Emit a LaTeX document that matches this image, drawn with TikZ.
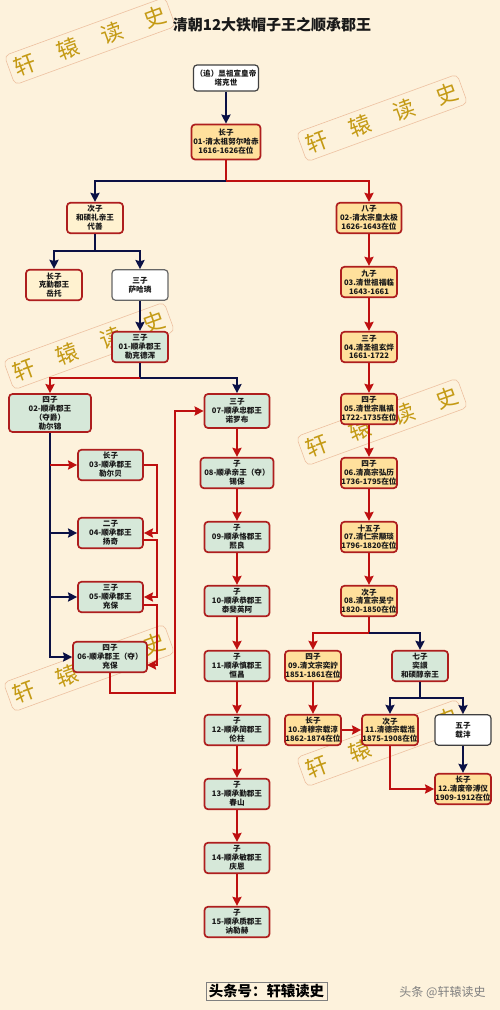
\documentclass[tikz,border=0pt]{standalone}
\usepackage{fontspec}
\setmainfont{Noto Sans CJK SC}
\usetikzlibrary{arrows.meta}
\lineskiplimit=-10pt
\normallineskiplimit=-10pt
\definecolor{PaperBg}{HTML}{FDF2DC}
\definecolor{LinkRed}{HTML}{BE1010}
\definecolor{LinkNavy}{HTML}{0B1145}
\definecolor{EdgeRed}{HTML}{AE1E1E}
\definecolor{EmperorFill}{HTML}{FFE09C}
\definecolor{PrinceFill}{HTML}{D6E8D9}
\definecolor{CreamFill}{HTML}{FFF2D0}
\definecolor{StampText}{HTML}{C49A14}
\definecolor{StampEdge}{HTML}{EDC0A0}
\tikzset{
  box/.style={draw=EdgeRed, line width=1.7pt, rounded corners=3.5pt, inner sep=0pt, align=center,
    text=black!90, font=\fontsize{7.6}{8.9}\selectfont\bfseries,
    minimum width=56pt, minimum height=30.5pt},
  emperor/.style={box, fill=EmperorFill},
  prince/.style={box, fill=PrinceFill},
  cream/.style={box, fill=CreamFill},
  plain/.style={box, fill=white, draw=black!75, line width=1.2pt},
  redlink/.style={draw=LinkRed, line width=2pt},
  navylink/.style={draw=LinkNavy, line width=2pt},
  stamp/.style={draw=StampEdge, line width=0.6pt, rounded corners=5pt, rotate=20, minimum width=171pt,
    minimum height=31pt, inner sep=0pt, text=StampText, font=\fontsize{22}{22}\selectfont},
}
\begin{document}
\begin{tikzpicture}[x=1pt, y=-1pt, >={Stealth[length=9pt, width=9pt, inset=1pt]}]
  \useasboundingbox (0,0) rectangle (500,1010);
  \fill[PaperBg] (0,0) rectangle (500,1010);
  % stamps sit under everything
  \foreach \i/\wx/\wy in {1/90/41, 2/382/118, 3/89/346, 4/382/422, 5/89/668, 6/382/743}
    \node[stamp] (stamp\i) at (\wx,\wy) {轩\hspace{24pt}辕\hspace{24pt}读\hspace{24pt}史};
  \node[font=\fontsize{15}{18}\selectfont\bfseries, text=black!90] (title) at (272,25) {清朝12大铁帽子王之顺承郡王};

  % founder and first branch
  \node[plain, minimum width=65pt, minimum height=26pt] (taksi) at (226,78) {（追）显祖宣皇帝\\塔克世};
  \node[emperor, minimum width=69pt, minimum height=35pt] (q01) at (226,142) {长子\\01-清太祖努尔哈赤\\1616-1626在位};
  \node[cream] (daishan) at (95,218) {次子\\和硕礼亲王\\代善};
  \node[cream] (yoto) at (54,285) {长子\\克勤郡王\\岳托};
  \node[plain, draw=black!60] (sahalin) at (140,285) {三子\\萨哈璘};

  % Shuncheng princes
  \node[prince] (s01) at (140,347) {三子\\01-顺承郡王\\勒克德浑};
  \node[prince, minimum width=82pt, minimum height=38pt] (s02) at (50,413) {四子\\02-顺承郡王\\（夺爵）\\勒尔锦};
  \node[prince, minimum width=65pt] (s03) at (110.5,465) {长子\\03-顺承郡王\\勒尔贝};
  \node[prince, minimum width=65pt] (s04) at (110.5,533) {二子\\04-顺承郡王\\扬奇};
  \node[prince, minimum width=65pt] (s05) at (110.5,597) {三子\\05-顺承郡王\\充保};
  \node[prince, minimum width=74pt] (s06) at (110,657) {四子\\06-顺承郡王（夺）\\充保};
  \node[prince, minimum width=65pt, minimum height=34pt] (s07) at (237,411) {三子\\07-顺承忠郡王\\诺罗布};
  \node[prince, minimum width=73pt] (s08) at (237,473) {子\\08-顺承亲王（夺）\\锡保};
  \node[prince, minimum width=65pt] (s09) at (237,537) {子\\09-顺承恪郡王\\熙良};
  \node[prince, minimum width=65pt] (s10) at (237,601) {子\\10-顺承恭郡王\\泰斐英阿};
  \node[prince, minimum width=65pt] (s11) at (237,666) {子\\11-顺承慎郡王\\恒昌};
  \node[prince, minimum width=65pt] (s12) at (237,730) {子\\12-顺承简郡王\\伦柱};
  \node[prince, minimum width=65pt] (s13) at (237,794) {子\\13-顺承勤郡王\\春山};
  \node[prince, minimum width=65pt] (s14) at (237,858) {子\\14-顺承敏郡王\\庆恩};
  \node[prince, minimum width=65pt] (s15) at (237,922) {子\\15-顺承质郡王\\讷勒赫};

  % emperors
  \node[emperor, minimum width=65pt] (q02) at (369,218) {八子\\02-清太宗皇太极\\1626-1643在位};
  \node[emperor] (q03) at (369,282) {九子\\03.清世祖福临\\1643-1661};
  \node[emperor] (q04) at (369,347) {三子\\04.清圣祖玄烨\\1661-1722};
  \node[emperor] (q05) at (369,409) {四子\\05.清世宗胤禛\\1722-1735在位};
  \node[emperor] (q06) at (369,473) {四子\\06.清高宗弘历\\1736-1795在位};
  \node[emperor] (q07) at (369,537) {十五子\\07.清仁宗颙琰\\1796-1820在位};
  \node[emperor] (q08) at (369,601) {次子\\08.清宣宗旻宁\\1820-1850在位};
  \node[emperor] (q09) at (313,666) {四子\\09.清文宗奕詝\\1851-1861在位};
  \node[prince] (yixuan) at (420,666) {七子\\奕譞\\和硕醇亲王};
  \node[emperor] (q10) at (313,730) {长子\\10.清穆宗载淳\\1862-1874在位};
  \node[emperor] (q11) at (390,730) {次子\\11.清德宗载湉\\1875-1908在位};
  \node[plain] (zaifeng) at (463,730) {五子\\载沣};
  \node[emperor] (q12) at (463,789) {长子\\12.清废帝溥仪\\1909-1912在位};

  % junctions
  \coordinate (j01) at (226,181);
  \coordinate (jds) at (95,251);
  \coordinate (js1) at (140,378);
  \coordinate (j08) at (369,633);
  \coordinate (jyx) at (420,698);
  \coordinate (b03) at (50,465);
  \coordinate (b04) at (50,533);
  \coordinate (b05) at (50,597);
  \coordinate (t04) at (157,533);
  \coordinate (t05) at (157,597);
  \coordinate (t06) at (157,665);
  \coordinate (e04) at (143,540);
  \coordinate (e05) at (143,605);
  \coordinate (i06) at (147,665);
  \coordinate (d06) at (110,693);
  \coordinate (u07) at (175,411);
  \coordinate (l12) at (390,789);

  \draw[navylink, ->] (taksi) -- (q01);
  \draw[redlink] (q01) -- (j01);
  \draw[navylink, ->] (j01) -| (daishan.north);
  \draw[redlink, ->] (j01) -| (q02.north);
  \draw[navylink] (daishan) -- (jds);
  \draw[navylink, ->] (jds) -| (yoto.north);
  \draw[navylink, ->] (jds) -| (sahalin.north);
  \draw[navylink, ->] (sahalin) -- (s01);
  \draw[navylink] (s01) -- (js1);
  \draw[redlink, ->] (js1) -| (s02.north);
  \draw[navylink, ->] (js1) -| (s07.north);

  % brothers hanging off the long left line
  \draw[navylink, ->] (s02.south) |- (s06.west);
  \draw[redlink, ->] (b03) -- (s03.west);
  \draw[navylink, ->] (b04) -- (s04.west);
  \draw[navylink, ->] (b05) -- (s05.west);
  \draw[redlink, ->] (s03.east) -| (t04) -- (s04.east);
  \draw[redlink, ->] (e04) -| (t05) -- (s05.east);
  \draw[redlink, ->] (e05) -| (t06) -- (i06);
  \draw[redlink, ->] (s06.south) -- (d06) -| (u07) -- (s07.west);

  \foreach \a/\b in {s07/s08, s08/s09, s09/s10, s10/s11, s11/s12, s12/s13, s13/s14, s14/s15,
      q02/q03, q03/q04, q04/q05, q05/q06, q06/q07, q07/q08, q09/q10, q10/q11}
    \draw[redlink, ->] (\a) -- (\b);
  \draw[redlink] (q08) -- (j08);
  \draw[redlink, ->] (j08) -| (q09.north);
  \draw[navylink, ->] (j08) -| (yixuan.north);
  \draw[navylink] (yixuan) -- (jyx);
  \draw[navylink, ->] (jyx) -| (q11.north);
  \draw[navylink, ->] (jyx) -| (zaifeng.north);
  \draw[navylink, ->] (zaifeng) -- (q12);
  \draw[redlink, ->] (q11.south) -- (l12) -- (q12.west);

  % footer
  \node[draw=black!50, line width=0.5pt, inner sep=0pt, minimum width=121pt, minimum height=18pt,
    font=\fontsize{14.4}{16}\selectfont\bfseries] (account) at (266.5,991) {头条号：轩辕读史};
  \node[text=black!50, font=\fontsize{12}{14}\selectfont] (mark) at (442.5,992) {头条 @轩辕读史};
\end{tikzpicture}
\end{document}
